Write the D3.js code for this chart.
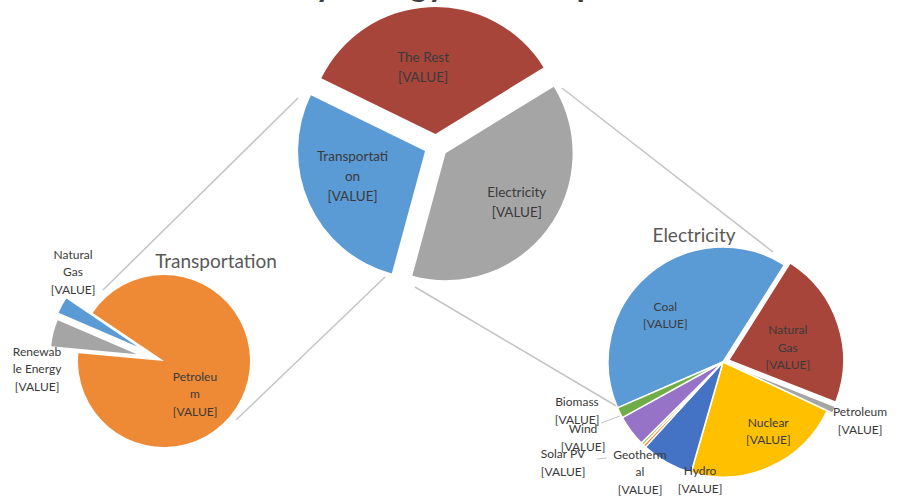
<!DOCTYPE html>
<html>
<head>
<meta charset="utf-8">
<script src="https://cdn.jsdelivr.net/npm/d3@7"></script>
<style>
  body { margin: 0; background: #fff; }
  svg { display: block; }
  text { font-family: Lato, "Open Sans", "Liberation Sans", sans-serif; }
</style>
</head>
<body>
<svg id="chart" width="898" height="501"></svg>
<script>
// ---- data ----
const chartTitle = "US Primary Energy Consumption in 2011";

const sectorNames  = ["The Rest", "Electricity", "Transportation"];
const sectorShares = [34, 38, 28];
const sectorLabels = [["The Rest", "[VALUE]"], ["Electricity", "[VALUE]"], ["Transportati", "on", "[VALUE]"]];

const transportSources = ["Petroleum", "Renewable Energy", "Natural Gas"];
const transportShares  = [92, 5, 3];
const transportLabels  = [["Petroleu", "m", "[VALUE]"], ["Renewab", "le Energy", "[VALUE]"], ["Natural", "Gas", "[VALUE]"]];

const electricitySources = ["Coal", "Natural Gas", "Petroleum", "Nuclear", "Hydro", "Geothermal", "Solar PV", "Wind", "Biomass"];
const electricityShares  = [40.5, 22, 1, 22.5, 7.3, 0.4, 0.4, 4.4, 1.5];
const electricityLabels  = [["Coal", "[VALUE]"], ["Natural", "Gas", "[VALUE]"], ["Petroleum", "[VALUE]"],
                            ["Nuclear", "[VALUE]"], ["Hydro", "[VALUE]"], ["Geotherm", "al", "[VALUE]"],
                            ["Solar PV", "[VALUE]"], ["Wind", "[VALUE]"], ["Biomass", "[VALUE]"]];

// ---- layout ----
const svg = d3.select("#chart");
const rad = d => d * Math.PI / 180;
const labelColor = "#3a3a3a";

// pie-of-pie connector lines
const connectors = [
  [[298, 98], [103, 290]],
  [[385, 277], [236, 420]],
  [[562, 88], [773, 252]],
  [[415, 287], [618, 407]]
];
// small label leader lines
const leaders = [
  [[601, 423], [620, 416]],
  [[597, 459], [607, 458]]
];

svg.append("g").selectAll("line").data(connectors).join("line")
  .attr("x1", d => d[0][0]).attr("y1", d => d[0][1])
  .attr("x2", d => d[1][0]).attr("y2", d => d[1][1])
  .attr("stroke", "#c4c4c4").attr("stroke-width", 1.5);

svg.append("g").selectAll("line").data(leaders).join("line")
  .attr("x1", d => d[0][0]).attr("y1", d => d[0][1])
  .attr("x2", d => d[1][0]).attr("y2", d => d[1][1])
  .attr("stroke", "#c4c4c4").attr("stroke-width", 1);

function drawPie(cfg) {
  const start = rad(cfg.start);
  const pie = d3.pie().sort(null).startAngle(start).endAngle(start + 2 * Math.PI);
  const arcs = pie(cfg.values);
  const arc = d3.arc().innerRadius(0).outerRadius(cfg.r);
  const g = svg.append("g").attr("transform", `translate(${cfg.cx},${cfg.cy})`);

  arcs.forEach((a, i) => {
    const mid = (a.startAngle + a.endAngle) / 2;
    const ex = cfg.explode[i] || 0;
    const dx = Math.sin(mid) * ex, dy = -Math.cos(mid) * ex;
    g.append("path")
      .attr("d", arc(a))
      .attr("transform", `translate(${dx},${dy})`)
      .attr("fill", cfg.colors[i])
      .attr("stroke", "#fff")
      .attr("stroke-width", cfg.stroke);
  });

  arcs.forEach((a, i) => {
    const mid = (a.startAngle + a.endAngle) / 2;
    const ex = cfg.explode[i] || 0;
    const place = cfg.place[i];
    let lx, ly;
    if (place.inside != null) {
      const rr = cfg.r * place.inside + ex;
      lx = Math.sin(mid) * rr + place.shift[0];
      ly = -Math.cos(mid) * rr + place.shift[1];
    } else {
      lx = place.at[0];
      ly = place.at[1];
    }
    const lines = cfg.labels[i];
    const t = g.append("text")
      .attr("text-anchor", "middle")
      .attr("font-size", cfg.fontSize)
      .attr("fill", labelColor);
    lines.forEach((s, k) => {
      t.append("tspan")
        .attr("x", lx)
        .attr("y", ly + (k - (lines.length - 1) / 2) * cfg.lineH)
        .attr("dy", "0.35em")
        .text(s);
    });
  });

  if (cfg.title) {
    g.append("text")
      .attr("x", cfg.title.at[0]).attr("y", cfg.title.at[1])
      .attr("text-anchor", "middle")
      .attr("font-size", 19)
      .attr("fill", "#595959")
      .text(cfg.title.text);
  }
}

// main pie: sectors
drawPie({
  values: sectorShares, labels: sectorLabels,
  cx: 436, cy: 146, r: 127, start: -64, stroke: 0,
  colors: ["#A8453B", "#A5A5A5", "#5B9BD5"],
  explode: [12, 12, 12],
  fontSize: 13.5, lineH: 20,
  place: [
    { inside: 0.54, shift: [-9, 1.5] },
    { inside: 0.68, shift: [2, -3] },
    { inside: 0.61, shift: [-2, -7] }
  ]
});

// transportation breakdown
drawPie({
  values: transportShares, labels: transportLabels,
  cx: 164, cy: 361, r: 86, start: -56, stroke: 0,
  colors: ["#EE8A36", "#A5A5A5", "#5B9BD5"],
  explode: [0, 28, 30],
  fontSize: 12, lineH: 17.5,
  place: [
    { inside: 0.5, shift: [-9.5, 18.6] },
    { at: [-127, 8] },
    { at: [-91, -89] }
  ],
  title: { text: "Transportation", at: [52, -93] }
});

// electricity breakdown
drawPie({
  values: electricityShares, labels: electricityLabels,
  cx: 723, cy: 362, r: 115, start: -113.5, stroke: 1.5,
  colors: ["#5B9BD5", "#A8453B", "#A5A5A5", "#FFC000", "#4472C4", "#ED7D31", "#A9C94F", "#9673C7", "#70AD47"],
  explode: [0, 6, 6, 0, 0, 0, 0, 0, 0],
  fontSize: 12, lineH: 17.5,
  place: [
    { inside: 0.65, shift: [-9, 10] },
    { inside: 0.55, shift: [-1, 7] },
    { at: [137, 59] },
    { inside: 0.7, shift: [12, -4] },
    { at: [-23, 118] },
    { at: [-83, 110] },
    { at: [-160, 101] },
    { at: [-140, 76] },
    { at: [-146, 49] }
  ],
  title: { text: "Electricity", at: [-29, -120] }
});

// chart title (runs off the top edge)
svg.append("text")
  .attr("x", 471).attr("y", -4)
  .attr("text-anchor", "middle")
  .attr("font-size", 34)
  .attr("font-weight", "bold")
  .attr("fill", "#404040")
  .text(chartTitle);
</script>
</body>
</html>
